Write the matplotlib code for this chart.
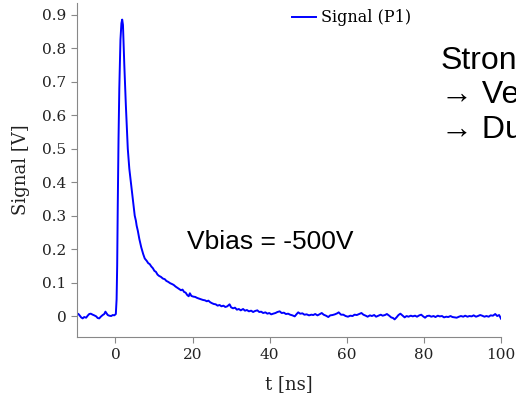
import matplotlib
matplotlib.use('Agg')
import matplotlib.pyplot as plt
from matplotlib.ticker import FuncFormatter

# waveform (t in ns, signal in V)
t_ns = [-10, -9.6, -9.3, -8.9, -8.5, -8.1, -7.6, -7.2, -6.8, -6.4, -5.9, -5.5, -5.0, -4.6, -4.2,
        -3.8, -3.3, -2.9, -2.6, -2.3, -2.0, -1.6, -1.1, -0.7, -0.3, 0.1,
        0.3, 0.45, 0.6, 0.8, 1.0, 1.3, 1.55, 1.75, 1.95, 2.3, 2.7, 3.2, 3.6, 4.1, 4.6, 5.0,
        5.3, 5.5, 5.8, 6.2, 6.7, 7.2, 7.6, 8.1, 8.5, 8.9, 9.3, 9.7, 10.1, 10.5, 10.9, 11.3,
        11.8, 12.3, 12.8, 13.2, 13.7, 14.2, 14.6, 15.1, 15.6, 16.0, 16.5, 17.0, 17.4, 17.8,
        18.2, 18.6, 19.0, 19.3, 19.7, 20.2, 20.7, 21.2, 21.7, 22.2, 22.7, 23.2, 23.7, 24.1,
        24.6, 25.1, 25.5, 26.0, 26.5, 27.0, 27.5, 28.0, 28.5, 29.0, 29.6, 30.0, 30.5, 31.0,
        31.5, 32.0, 32.5, 33.1, 33.6, 34.1, 34.6, 35.2, 35.7, 36.2, 36.8, 37.3, 37.8, 38.3,
        38.9, 39.4, 39.9, 40.4, 40.9, 41.5, 42.0, 42.6, 43.1, 43.7, 44.2, 44.8, 45.3, 45.9,
        46.5, 47.0, 47.4, 47.9, 48.5, 49.0, 49.6, 50.2, 50.8, 51.3, 51.8, 52.4, 52.9, 53.5,
        54.0, 54.6, 55.2, 55.7, 56.3, 56.9, 57.5, 57.9, 58.5, 59.1, 59.7, 60.3, 60.9, 61.5,
        62.0, 62.6, 63.2, 63.8, 64.3, 64.9, 65.4, 66.0, 66.5, 67.1, 67.6, 68.2, 68.8, 69.3,
        69.9, 70.4, 71.0, 71.5, 72.0, 72.4, 72.9, 73.4, 73.9, 74.4, 75.0, 75.5, 76.0, 76.6,
        77.1, 77.7, 78.2, 78.8, 79.3, 79.8, 80.3, 80.8, 81.4, 81.9, 82.5, 83.0, 83.6, 84.1,
        84.7, 85.2, 85.8, 86.3, 86.9, 87.4, 88.0, 88.5, 89.1, 89.6, 90.2, 90.7, 91.3, 91.8,
        92.4, 92.9, 93.5, 94.0, 94.6, 95.1, 95.7, 96.2, 96.8, 97.3, 97.9, 98.5, 99.0, 99.5,
        100.0]
signal_v = [0.008, 0.006, 0.002, -0.004, -0.007, -0.003, -0.005, 0.001, 0.006, 0.007, 0.004,
            0.002, -0.001, -0.006, -0.007, -0.002, 0.003, 0.006, 0.013, 0.008, 0.003, 0.001,
            0.0, 0.003, 0.002, 0.006,
            0.05, 0.15, 0.33, 0.53, 0.68, 0.826, 0.875, 0.886, 0.87, 0.75, 0.63, 0.50, 0.44,
            0.39, 0.34, 0.30, 0.285, 0.27, 0.255, 0.23, 0.205, 0.185, 0.172, 0.165, 0.158,
            0.155, 0.148, 0.143, 0.135, 0.132, 0.124, 0.12, 0.117, 0.112, 0.11, 0.105, 0.102,
            0.098, 0.096, 0.093, 0.088, 0.085, 0.081, 0.077, 0.079, 0.072, 0.07, 0.063, 0.059,
            0.068, 0.06, 0.058, 0.057, 0.054, 0.052, 0.05, 0.048, 0.047, 0.044, 0.046, 0.041,
            0.038, 0.036, 0.035, 0.031, 0.033, 0.029, 0.031, 0.027, 0.029, 0.035, 0.026, 0.023,
            0.025, 0.019, 0.021, 0.017, 0.021, 0.016, 0.018, 0.014, 0.016, 0.012, 0.015, 0.017,
            0.012, 0.013, 0.009, 0.011, 0.007, 0.009, 0.005, 0.007, 0.009, 0.012, 0.014, 0.009,
            0.01, 0.006, 0.007, 0.004, 0.002, -0.001, 0.006, 0.011, 0.007, 0.008, 0.004, 0.005,
            0.002, 0.004, 0.003, 0.006, 0.002, 0.005, 0.009, 0.004, 0.001, -0.003, 0.002, 0.003,
            0.005, 0.008, 0.011, 0.004, 0.004, 0.0, -0.002, 0.001, 0.0, 0.004, 0.003, 0.006,
            0.009, 0.004, 0.001, -0.002, 0.002, 0.0, 0.003, -0.002, 0.001, 0.004, 0.001, 0.003,
            0.006, 0.001, -0.004, -0.006, -0.01, -0.004, 0.003, 0.007, 0.002, -0.004, 0.0,
            -0.002, 0.001, -0.001, 0.001, -0.002, 0.002, 0.004, -0.001, -0.005, 0.0, 0.001,
            -0.002, 0.0, -0.003, 0.001, -0.001, 0.0, -0.004, -0.002, -0.003, 0.0, -0.003,
            -0.004, -0.005, -0.002, 0.0, -0.002, 0.001, -0.002, 0.0, -0.001, 0.002, -0.002,
            0.0, 0.003, 0.001, -0.002, 0.0, -0.002, 0.002, 0.001, 0.006, 0.0, 0.003, -0.008]

x_ticks = [0, 20, 40, 60, 80, 100]
y_ticks = [0, 0.1, 0.2, 0.3, 0.4, 0.5, 0.6, 0.7, 0.8, 0.9]

plt.rcParams['font.family'] = ['DejaVu Serif']

fig = plt.figure(figsize=(5.16, 3.98), dpi=100)
ax = fig.add_axes([0.149, 0.153, 0.822, 0.839])

ax.plot(t_ns, signal_v, color='#0000ff', lw=1.4, label='Signal (P1)')

ax.set_xlim(-10, 100)
ax.set_ylim(-0.063, 0.935)
ax.set_xticks(x_ticks)
ax.set_yticks(y_ticks)
ax.yaxis.set_major_formatter(FuncFormatter(lambda v, p: '0' if v == 0 else '%.1f' % v))

for s in ['top', 'right']:
    ax.spines[s].set_visible(False)
for s in ['left', 'bottom']:
    ax.spines[s].set_color('#888888')
ax.tick_params(colors='#888888', labelcolor='#222222', labelsize=11, length=4)

ax.set_xlabel('t [ns]', fontsize=13, color='#222222', labelpad=10)
ax.set_ylabel('Signal [V]', fontsize=13, color='#222222', labelpad=9)

ax.legend(loc='upper left', bbox_to_anchor=(286 / 516, 1 - 3 / 398),
          bbox_transform=fig.transFigure, frameon=False, fontsize=11.5,
          handlelength=1.5, handletextpad=0.3, borderaxespad=0)

sans = ['Liberation Sans', 'DejaVu Sans']
fig.text(187 / 516, 1 - 242 / 398, 'Vbias = -500V', fontsize=19, family=sans,
         ha='left', va='center')
fig.text(441 / 516, 1 - 46 / 398, 'Strong\n\u2192 Ve\n\u2192 Du', fontsize=23, family=sans,
         ha='left', va='top', linespacing=1.19)

fig.savefig('out.png', dpi=100)
